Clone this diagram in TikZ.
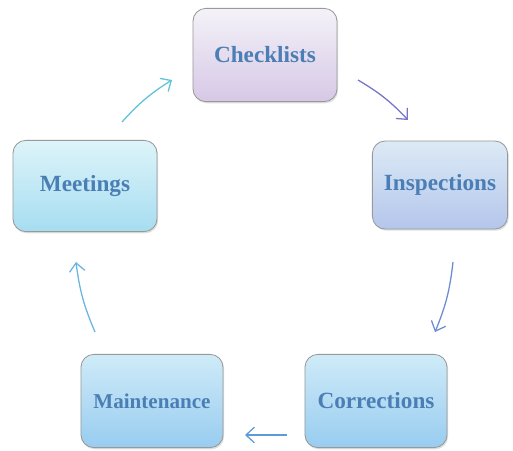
\documentclass[tikz,border=0pt]{standalone}
\usepackage{fontspec}
\setmainfont{Liberation Serif}
\usetikzlibrary{arrows.meta,shadows}

\definecolor{txtblue}{HTML}{4A7EB4}
\definecolor{lavtop}{HTML}{F4F2F8}
\definecolor{lavbot}{HTML}{D6C8E6}
\definecolor{cyantop}{HTML}{DDF4F9}
\definecolor{cyanbot}{HTML}{A6DDF1}
\definecolor{insptop}{HTML}{DCEAF5}
\definecolor{inspbot}{HTML}{B4C6EC}
\definecolor{bluetop}{HTML}{CFEBF8}
\definecolor{bluebot}{HTML}{98CCF0}
\definecolor{arrteal}{HTML}{5EC2D8}
\definecolor{arrpurple}{HTML}{7474C8}
\definecolor{arrblue}{HTML}{6C8AD2}
\definecolor{arrsky}{HTML}{5E9ADA}
\definecolor{arrlight}{HTML}{6AB4E2}

\begin{document}
\begin{tikzpicture}[x=0.025cm,y=-0.025cm,
  box/.style={draw=gray!80, line width=0.6pt, rounded corners=0.32cm,
    minimum width=3.55cm, minimum height=2.33cm,
    font=\bfseries\fontsize{16.5}{18}\selectfont, text=txtblue,
    drop shadow={opacity=0.25, shadow xshift=0.8pt, shadow yshift=-1.2pt}},
  flow/.style={-{Straight Barb[length=6pt,width=11pt]}, line width=0.9pt}]
  \useasboundingbox (0,0) rectangle (513,450);

  % the five stages
  \node[box, top color=lavtop, bottom color=lavbot, minimum width=3.6cm] (chk) at (265,55) {Checklists};
  \node[box, top color=insptop, bottom color=inspbot, minimum width=3.38cm, minimum height=2.2cm] (insp) at (440,185) {Inspections};
  \node[box, top color=bluetop, bottom color=bluebot] (corr) at (376,401) {Corrections};
  \node[box, top color=bluetop, bottom color=bluebot, font=\bfseries\fontsize{15}{17}\selectfont] (maint) at (152,401) {Maintenance};
  \node[box, top color=cyantop, bottom color=cyanbot, minimum width=3.6cm, minimum height=2.28cm] (meet) at (85,186) {Meetings};

  % arrow ends
  \coordinate (a1) at (122,122);
  \coordinate (b1) at (172,80);
  \coordinate (a2) at (358,80);
  \coordinate (b2) at (408,120);
  \coordinate (a3) at (453,262);
  \coordinate (b3) at (435,332);
  \coordinate (a4) at (287,435);
  \coordinate (b4) at (245,435);
  \coordinate (a5) at (95,332);
  \coordinate (b5) at (76,262);

  \draw[flow, arrteal] (a1) to[bend left=8] (b1);
  \draw[flow, arrpurple] (a2) to[bend left=8] (b2);
  \draw[flow, arrblue] (a3) to[bend left=8] (b3);
  \draw[flow, arrsky] (a4) -- (b4);
  \draw[flow, arrlight] (a5) to[bend left=8] (b5);
\end{tikzpicture}
\end{document}
